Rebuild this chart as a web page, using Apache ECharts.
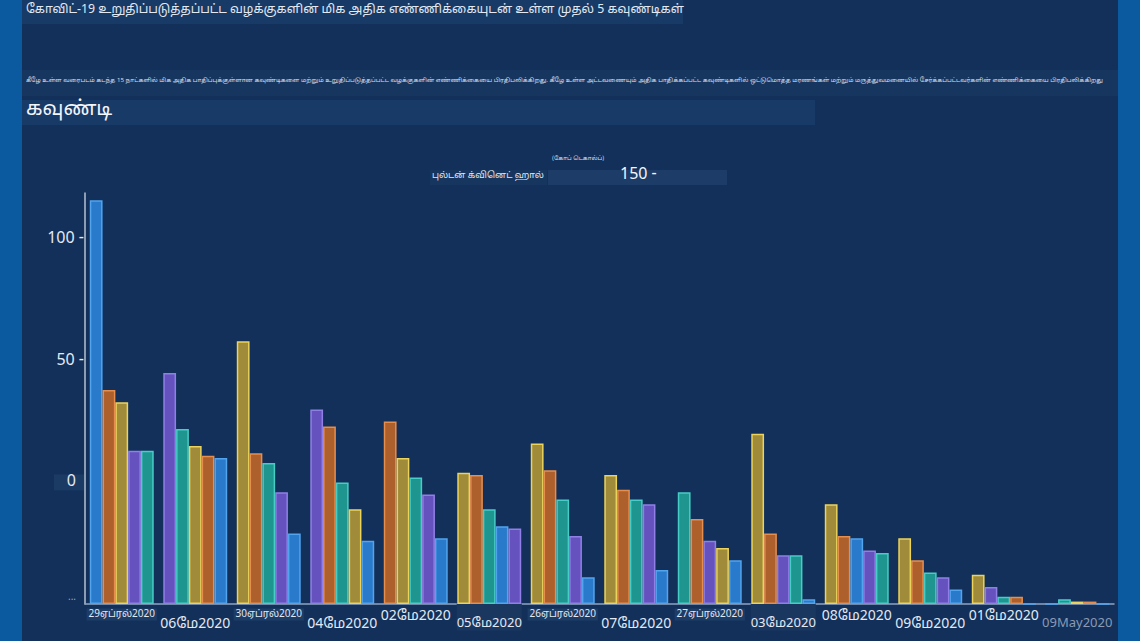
<!DOCTYPE html>
<html>
<head>
<meta charset="utf-8">
<script src="https://cdn.jsdelivr.net/npm/echarts@6/dist/echarts.min.js"></script>
<style>
  html, body { margin: 0; padding: 0; background: #0b5aa0; }
  #chart { width: 1140px; height: 641px; }
</style>
</head>
<body>
<div id="chart"></div>
<script>
// dates along the x axis, in the order they are drawn
const categories = [
  "29ஏப்ரல்2020", "06மே2020", "30ஏப்ரல்2020", "04மே2020", "02மே2020",
  "05மே2020", "26ஏப்ரல்2020", "07மே2020", "27ஏப்ரல்2020", "03மே2020",
  "08மே2020", "09மே2020", "01மே2020", "09May2020"
];

// bar heights per slot inside each date group (slot 1 = left-most bar)
const slot1 = [166, 95, 108, 80, 75, 54, 66, 53, 46, 70, 41, 27, 12, 0];
const slot2 = [88, 72, 62, 73, 60, 53, 55, 47, 35, 29, 28, 18, 7, 2];
const slot3 = [83, 65, 58, 50, 52, 39, 43, 43, 26, 20, 27, 13, 3, 1];
const slot4 = [63, 61, 46, 39, 45, 32, 28, 41, 23, 20, 22, 11, 3, 1];
const slot5 = [63, 60, 29, 26, 27, 31, 11, 14, 18, 2, 21, 6, 0, 0];

// which county colour each slot carries, per date group
const slot1Key = ["B", "P", "Y", "P", "O", "Y", "Y", "Y", "T", "Y", "Y", "Y", "Y", "B"];
const slot2Key = ["O", "T", "O", "O", "Y", "O", "O", "O", "O", "O", "O", "O", "P", "T"];
const slot3Key = ["Y", "Y", "T", "T", "T", "T", "T", "T", "P", "P", "B", "T", "T", "Y"];
const slot4Key = ["P", "O", "P", "Y", "P", "B", "P", "P", "Y", "T", "P", "P", "O", "O"];
const slot5Key = ["T", "B", "B", "B", "B", "P", "B", "B", "B", "B", "T", "B", "B", "B"];

// y tick labels as printed on the picture, at 0, 50, 100, 150
const yTickLabels = ["...", "0", "50 -", "100 -"];

const titleText = "கோவிட்-19 உறுதிப்படுத்தப்பட்ட வழக்குகளின் மிக அதிக எண்ணிக்கையுடன் உள்ள முதல் 5 கவுண்டிகள்";
const subText = "கீழே உள்ள வரைபடம் கடந்த 15 நாட்களில் மிக அதிக பாதிப்புக்குள்ளான கவுண்டிகளை மற்றும் உறுதிப்படுத்தப்பட்ட வழக்குகளின் எண்ணிக்கையை பிரதிபலிக்கிறது. கீழே உள்ள அட்டவணையும் அதிக பாதிக்கப்பட்ட கவுண்டிகளில் ஒட்டுமொத்த மரணங்கள் மற்றும் மருத்துவமனையில் சேர்க்கப்பட்டவர்களின் எண்ணிக்கையை பிரதிபலிக்கிறது";
const axisTitle = "கவுண்டி";
const legendTop = "(கோப் டெகால்ப்)";
const legendLeft = "புல்டன் க்வினெட் ஹால்";
const legendRight = "150 -";

// label look per category: s = small boxed, b = big, m = medium, g = grey
const labelKind = ["s", "b", "s", "b", "b", "m", "s", "b", "s", "m", "b", "b", "b", "g"];

const palette = {
  B: { fill: "#2a7acb", edge: "#52a4ee" },
  O: { fill: "#ad5f2c", edge: "#e68e4e" },
  Y: { fill: "#a08b3a", edge: "#ecd35c" },
  P: { fill: "#6552bf", edge: "#9080e6" },
  T: { fill: "#1f9590", edge: "#48cdc6" }
};

// tamil faces first if the machine has one, otherwise the usual sans
const FONT = "'Noto Sans Tamil', 'Lohit Tamil', 'Noto Sans', 'Open Sans', sans-serif";
const TEXT = "#e3e9f2";

const slots = [
  [slot1, slot1Key], [slot2, slot2Key], [slot3, slot3Key], [slot4, slot4Key], [slot5, slot5Key]
];

const series = slots.map(([vals, keys], i) => ({
  type: "bar",
  name: "slot" + (i + 1),
  barGap: "0%",
  barCategoryGap: "13%",
  data: vals.map((v, j) => ({
    value: v,
    itemStyle: {
      color: palette[keys[j]].fill,
      borderColor: palette[keys[j]].edge,
      borderWidth: 1.5
    }
  }))
}));

const chart = echarts.init(document.getElementById("chart"), null, { renderer: "svg" });

chart.setOption({
  backgroundColor: "#0b5aa0",
  animation: false,
  textStyle: { fontFamily: FONT },
  grid: { left: 85, right: 26, top: 193, bottom: 37, containLabel: false },
  xAxis: {
    type: "category",
    data: categories,
    axisTick: { show: false },
    axisLine: { lineStyle: { color: "#8ea4c4", width: 1.5 } },
    axisLabel: {
      interval: 0,
      margin: 4,
      formatter: (val, idx) => "{" + labelKind[idx] + (idx % 2 ? "2" : "1") + "|" + val + "}",
      rich: {
        s1: { fontSize: 10, color: TEXT, backgroundColor: "#1d3c66", padding: [1, 2], lineHeight: 13 },
        b1: { fontSize: 14, color: TEXT, lineHeight: 18, padding: [-2, 0, 0, 0] },
        b2: { fontSize: 14, color: TEXT, lineHeight: 18, padding: [14, 0, 0, 0] },
        m2: { fontSize: 13, color: TEXT, lineHeight: 18, padding: [14, 0, 0, 0], backgroundColor: "#1a3760" },
        s2: { fontSize: 10, color: TEXT, lineHeight: 13, padding: [16, 0, 0, 0] },
        g2: { fontSize: 13, color: "#8a9ab4", lineHeight: 18, padding: [14, 0, 0, 0] }
      }
    }
  },
  yAxis: {
    type: "value",
    min: 0,
    max: 169,
    interval: 50,
    splitLine: { show: false },
    axisTick: { show: false },
    axisLine: { show: true, lineStyle: { color: "#b4c0d2", width: 1.5 } },
    axisLabel: {
      margin: 1,
      formatter: (v) => {
        const i = v / 50;
        if (i === 1) return "{z|" + yTickLabels[i] + "}";
        if (i === 0) return "{d|" + yTickLabels[i] + "}";
        return Number.isInteger(i) && yTickLabels[i] ? "{n|" + yTickLabels[i] + "}" : "";
      },
      rich: {
        n: { fontSize: 16, color: TEXT },
        d: { fontSize: 10, color: "#9aa8bc", padding: [0, 8, 14, 0] },
        z: { fontSize: 16, color: TEXT, backgroundColor: "#1b3a64", width: 22, align: "right", padding: [0, 8, 0, 0] }
      }
    }
  },
  graphic: [
    { type: "rect", z: -10, silent: true, shape: { x: 22, y: 0, width: 1096, height: 641 }, style: { fill: "#12305a" } },
    { type: "rect", z: -9, silent: true, shape: { x: 22, y: 0, width: 661, height: 24 }, style: { fill: "#183a66" } },
    { type: "text", left: 26, top: 4, style: { text: titleText, fontSize: 12.3, fill: TEXT, fontFamily: FONT } },
    { type: "rect", z: -9, silent: true, shape: { x: 22, y: 70, width: 1096, height: 26 }, style: { fill: "#163660" } },
    { type: "text", left: 26, top: 77, style: { text: subText, fontSize: 6.1, fill: "#d6dde8", fontFamily: FONT, width: 1090, overflow: "truncate" } },
    { type: "rect", z: -9, silent: true, shape: { x: 22, y: 100, width: 793, height: 25 }, style: { fill: "#183a66" } },
    { type: "text", left: 26, top: 100, style: { text: axisTitle, fontSize: 20, fill: "#f2f5fa", fontFamily: FONT } },
    { type: "text", left: 552, top: 155, style: { text: legendTop, fontSize: 6, fill: "#d6dde8", fontFamily: FONT } },
    { type: "rect", z: -9, silent: true, shape: { x: 430, y: 170, width: 117, height: 15 }, style: { fill: "#163660" } },
    { type: "text", left: 432, top: 171, style: { text: legendLeft, fontSize: 9, fill: TEXT, fontFamily: FONT } },
    { type: "rect", z: -9, silent: true, shape: { x: 548, y: 170, width: 179, height: 15 }, style: { fill: "#1d3d68" } },
    { type: "text", left: 620, top: 167, style: { text: legendRight, fontSize: 16, fill: "#f2f5fa", fontFamily: FONT } }
  ],
  series: series
});

window.addEventListener("resize", () => chart.resize());
</script>
</body>
</html>
